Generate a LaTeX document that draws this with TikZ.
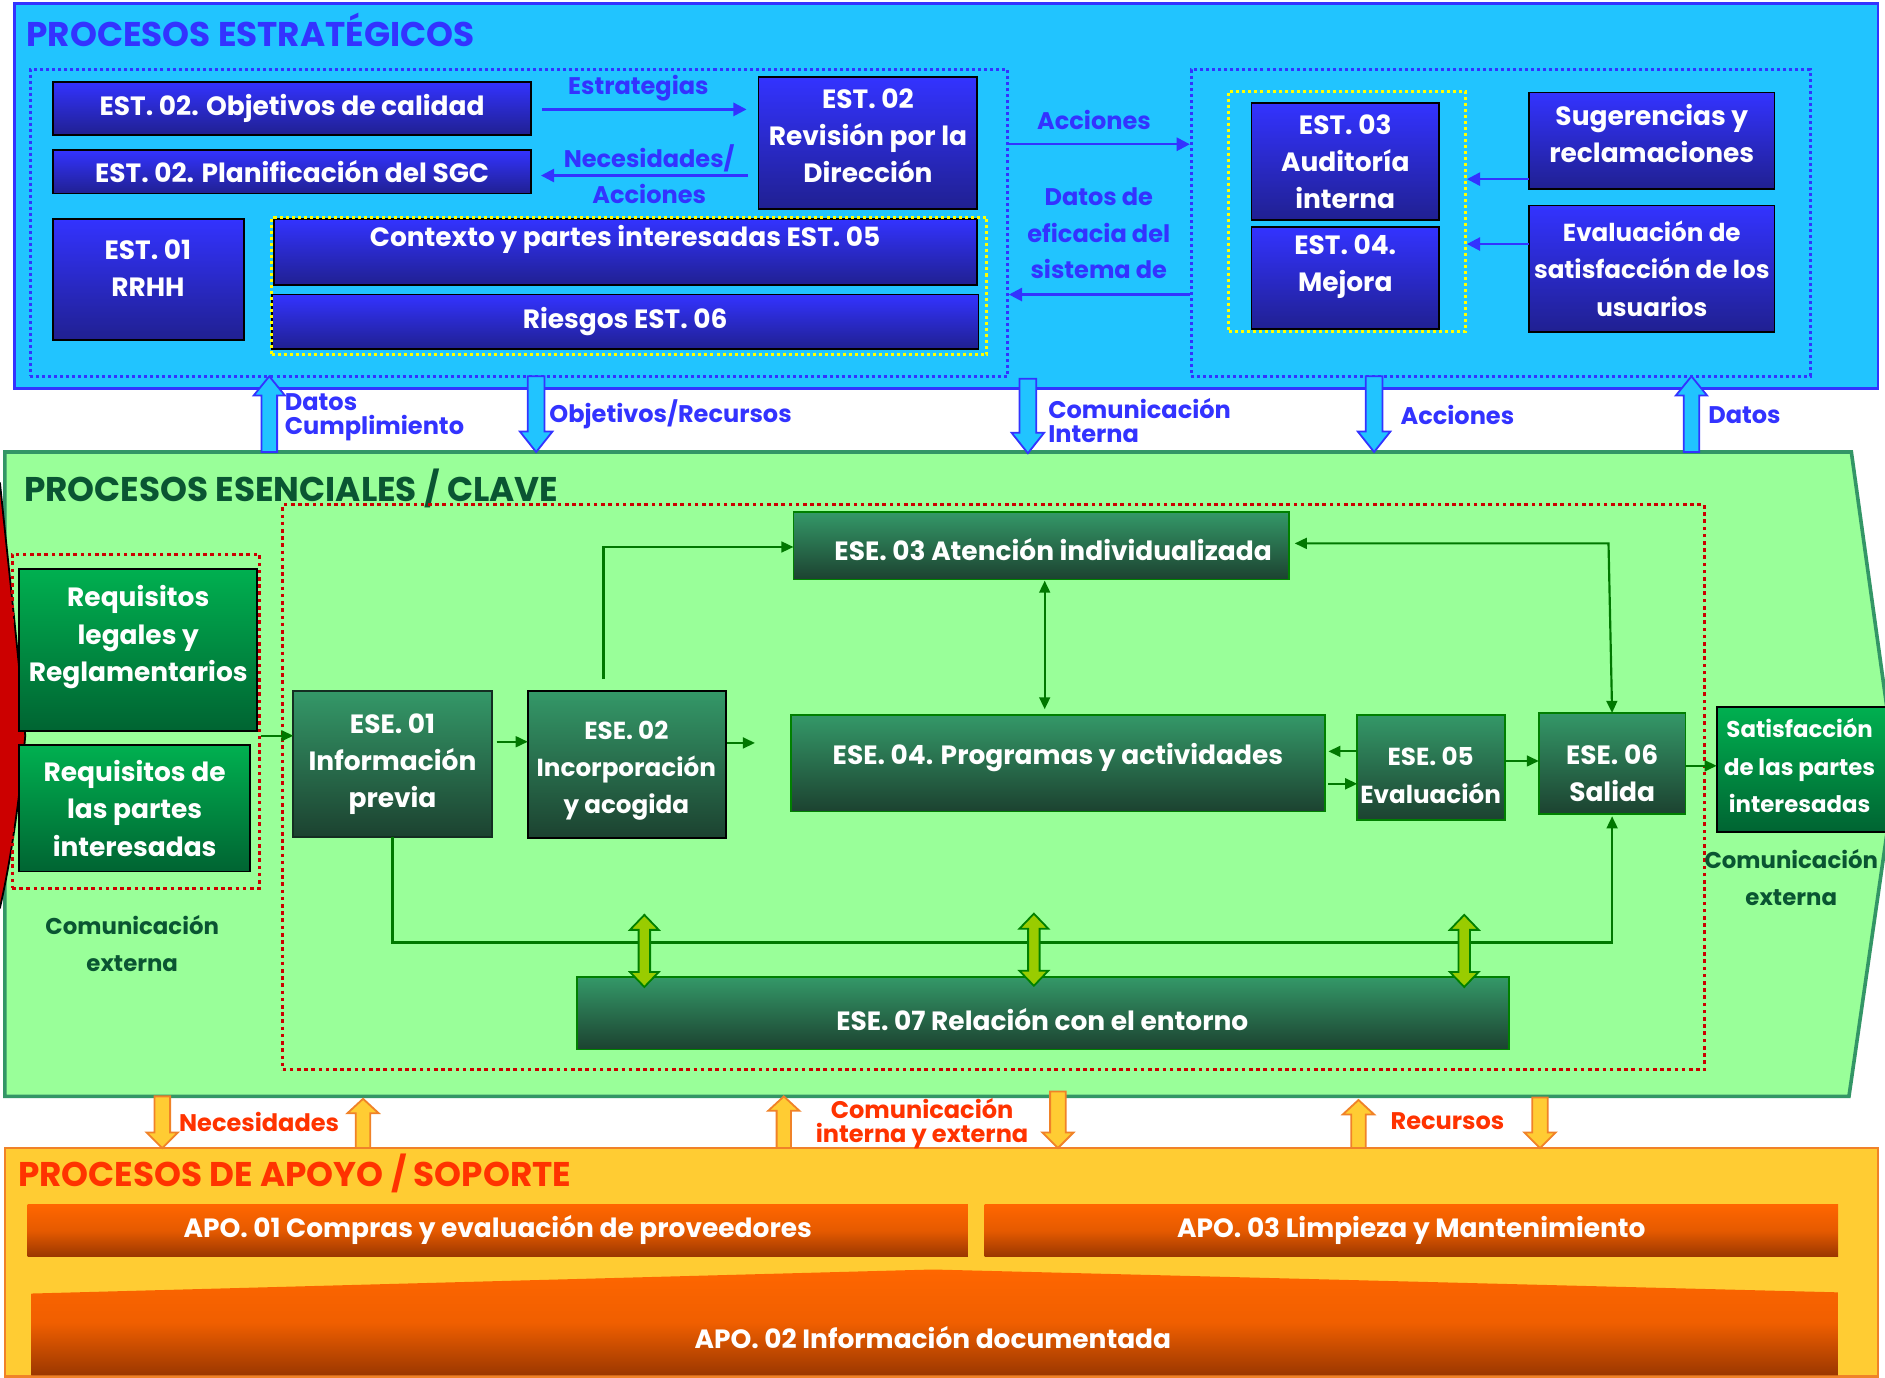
\documentclass[tikz,border=0pt]{standalone}
\usepackage{fontspec}
\setmainfont{Poppins}
\usetikzlibrary{arrows.meta,shadings}
\definecolor{bluebg}{RGB}{33,196,255}
\definecolor{bluedk}{RGB}{51,51,255}
\definecolor{boxtop}{RGB}{51,51,255}
\definecolor{boxbot}{RGB}{32,32,145}
\definecolor{greenbg}{RGB}{153,255,153}
\definecolor{greenbd}{RGB}{51,150,102}
\definecolor{greentxt}{RGB}{10,85,50}
\definecolor{reqtop}{RGB}{0,176,80}
\definecolor{reqbot}{RGB}{0,100,50}
\definecolor{esetop}{RGB}{52,152,104}
\definecolor{esebot}{RGB}{28,66,48}
\definecolor{eseline}{RGB}{0,128,0}
\definecolor{conn}{RGB}{0,120,0}
\definecolor{lime}{RGB}{153,204,0}
\definecolor{reddot}{RGB}{204,0,0}
\definecolor{redfill}{RGB}{204,0,0}
\definecolor{orbg}{RGB}{255,204,51}
\definecolor{orbd}{RGB}{240,130,40}
\definecolor{ortxt}{RGB}{255,51,0}
\definecolor{apotop}{RGB}{255,102,0}
\definecolor{apobot}{RGB}{155,55,0}
\definecolor{yel}{RGB}{255,255,0}
\newcommand\mybody{\bfseries\fontsize{22}{31}\selectfont}
\newcommand\mysmall{\bfseries\fontsize{20.5}{31}\selectfont}
\newcommand\mylab{\bfseries\fontsize{20}{30}\selectfont}
\newcommand\mygreen{\bfseries\fontsize{19}{31}\selectfont}
\newcommand\mytight{\bfseries\fontsize{20}{20}\selectfont}
\newcommand\mytitle{\bfseries\fontsize{28.5}{32}\selectfont}
\newcommand\mkbox[6]{\node[#1,minimum width={(#5)-(#3)},minimum height={(#6)-(#4)}] (#2) at ({((#3)+(#5))/2},{((#4)+(#6))/2})}
% vertical block arrow: style, x, y tail, y tip, shaft half, wing half, head length
\newcommand\bkarrow[7]{%
  \pgfmathsetmacro\bkd{ifthenelse((#4)>(#3),1,-1)}%
  \pgfmathsetmacro\bkh{(#4)-(\bkd)*(#7)}%
  \draw[#1] ({#2-#5},#3) -- ({#2-#5},\bkh) -- ({#2-#6},\bkh) -- (#2,#4) -- ({#2+#6},\bkh) -- ({#2+#5},\bkh) -- ({#2+#5},#3) -- cycle;}
% vertical double block arrow: style, x, y top, y bottom, shaft half, wing half, head length
\newcommand\bkdarrow[7]{%
  \draw[#1] (#2,#3) -- ({#2+#6},{#3+#7}) -- ({#2+#5},{#3+#7}) -- ({#2+#5},{#4-#7}) -- ({#2+#6},{#4-#7}) -- (#2,#4) -- ({#2-#6},{#4-#7}) -- ({#2-#5},{#4-#7}) -- ({#2-#5},{#3+#7}) -- ({#2-#6},{#3+#7}) -- cycle;}
\tikzset{
 tx/.style={inner sep=0pt, outer sep=0pt, align=center, font=\mybody},
 estbox/.style={tx, draw=black, line width=1.5, top color=boxtop, bottom color=boxbot, text=white},
 reqbox/.style={tx, draw=black, line width=1.5, top color=reqtop, bottom color=reqbot, text=white},
 esebox/.style={tx, draw=#1, line width=1.5, top color=esetop, bottom color=esebot, text=white},
 esebox/.default=eseline,
 apobox/.style={tx, top color=apotop, bottom color=apobot, middle color=apotop!75!apobot, text=white},
 wt/.style={tx, text=white},
 bdotbox/.style={draw=bluedk, line width=2.5, dash pattern=on 2.5pt off 2.5pt},
 ydotbox/.style={draw=yel, line width=2.5, dash pattern=on 2.5pt off 2.5pt},
 rdotbox/.style={draw=reddot, line width=2.5, dash pattern=on 3pt off 3pt},
 blab/.style={tx, text=bluedk, font=\mylab},
 glab/.style={tx, text=greentxt, font=\mygreen},
 olab/.style={tx, text=ortxt, font=\mylab},
 ttl/.style={tx, font=\mytitle, anchor=west},
 bconn/.style={draw=bluedk, line width=2, -{Triangle[length=11pt,width=11pt]}},
 gconn/.style={draw=conn, line width=1.8, -{Triangle[length=10pt,width=9pt]}},
 gdconn/.style={draw=conn, line width=1.8, {Triangle[length=10pt,width=9pt]}-{Triangle[length=10pt,width=9pt]}},
 bbk/.style={fill=bluebg, draw=bluedk, line width=1.5},
 obk/.style={fill=orbg, draw=orbd, line width=1.5},
 lbk/.style={fill=lime, draw=eseline, line width=1.5},
}
\begin{document}
\begin{tikzpicture}[x=1pt,y=-1pt]
\useasboundingbox (0,0) rectangle (1568,1146);
\fill[white] (0,0) rectangle (1568,1146);
% ---------- regions
\filldraw[fill=bluebg, draw=bluedk, line width=2] (12,3) rectangle (1562,323);
\filldraw[fill=greenbg, draw=greenbd, line width=3] (4,376) -- (1540,376) -- (1577,642) -- (1538,912) -- (4,912) -- cycle;
\filldraw[fill=orbg, draw=orbd, line width=2] (4,955) rectangle (1562,1145);
\filldraw[fill=redfill, draw=black, line width=1.5] (-3,402) -- (0,402) .. controls (8,480) and (16,550) .. (21,612) .. controls (16,670) and (8,720) .. (0,755) -- (-3,755) -- cycle;
% ---------- titles
\node[ttl, text=bluedk] (t-est) at (22,25) {PROCESOS ESTRATÉGICOS};
\node[ttl, text=greentxt] (t-ese) at (20,406) {PROCESOS ESENCIALES / CLAVE};
\node[ttl, text=ortxt] (t-apo) at (15,976) {PROCESOS DE APOYO / SOPORTE};
% ---------- strategic
\mkbox{bdotbox}{ldot}{25}{58}{838}{313}{};
\mkbox{bdotbox}{rdotb}{991}{58}{1506}{313}{};
\mkbox{estbox}{obj}{44}{68}{442}{112}{EST. 02. Objetivos de calidad};
\mkbox{estbox}{plan}{44}{125}{442}{161}{EST. 02. Planificación del SGC};
\mkbox{estbox}{rev}{631}{64}{813}{174}{};
\node[wt] (rev-t) at (722,113) {EST. 02\\Revisión por la\\Dirección};
\mkbox{estbox}{rrhh}{44}{182}{203}{283}{};
\node[wt] (rrhh-t) at (123,223) {EST. 01\\RRHH};
\mkbox{estbox}{ctx}{228}{182}{813}{237}{};
\node[wt] (ctx-t) at (520,199) {Contexto y partes interesadas EST. 05};
\mkbox{estbox}{rsg}{226}{245}{814}{290}{Riesgos EST. 06};
\mkbox{ydotbox}{ydl}{226}{181}{821}{295}{};
\mkbox{estbox}{aud}{1041}{86}{1197}{183}{EST. 03\\Auditoría\\interna};
\mkbox{estbox}{mej}{1041}{189}{1197}{274}{};
\node[wt] (mej-t) at (1119,222) {EST. 04.\\Mejora};
\mkbox{ydotbox}{ydr}{1022}{76}{1219}{276}{};
\mkbox{estbox}{sug}{1272}{77}{1476}{157}{};
\node[wt] (sug-t) at (1374,111) {Sugerencias y\\reclamaciones};
\mkbox{estbox, font=\mysmall}{evl}{1272}{171}{1476}{276}{Evaluación de\\satisfacción de los\\usuarios};
% strategic connectors
\draw[bconn, shorten <=9pt, shorten >=10pt] (obj.east |- 0,91) -- (rev.west |- 0,91);
\draw[bconn, shorten <=9pt, shorten >=8pt] (rev.west |- 0,146) -- (plan.east |- 0,146);
\draw[bconn] (ldot.east |- 0,120) -- (rdotb.west |- 0,120);
\draw[bconn] (rdotb.west |- 0,245) -- (ldot.east |- 0,245);
\draw[bconn] (sug.west |- 0,149) -- (ydr.east |- 0,149);
\draw[bconn] (evl.west |- 0,203) -- (ydr.east |- 0,203);
\node[blab] (l-estr) at (531,73) {Estrategias};
\node[blab] (l-nec) at (540,145) {Necesidades/\\Acciones};
\node[blab] (l-acc1) at (910,100) {Acciones};
\node[blab] (l-datos) at (914,194) {Datos de\\eficacia del\\sistema de};
% ---------- blue block arrows
\bkarrow{bbk}{224}{376}{313}{6.5}{13}{16}
\bkarrow{bbk}{446}{313}{376}{7}{13.5}{17}
\bkarrow{bbk}{855}{315}{377}{7}{13.5}{17}
\bkarrow{bbk}{1143}{313}{376}{7}{13.5}{17}
\bkarrow{bbk}{1407}{376}{313}{6.5}{13}{16}
\node[blab, font=\mytight, anchor=west, align=left] (l-dc) at (237,347) {Datos\\Cumplimiento};
\node[blab, anchor=west] (l-or) at (457,345) {Objetivos/Recursos};
\node[blab, font=\mytight, anchor=west, align=left] (l-ci) at (872,350) {Comunicación\\Interna};
\node[blab, anchor=west] (l-acc2) at (1165,345) {Acciones};
\node[blab, anchor=west] (l-dat2) at (1421,345) {Datos};
% ---------- essential
\mkbox{rdotbox}{rbig}{235}{420}{1418}{890}{};
\mkbox{rdotbox}{rsmall}{10}{461}{216}{739}{};
\mkbox{reqbox}{reql}{16}{473}{214}{608}{};
\node[wt] (reql-t) at (115,530) {Requisitos\\legales y\\Reglamentarios};
\mkbox{reqbox}{reqp}{16}{620}{208}{725}{Requisitos de\\las partes\\interesadas};
\mkbox{esebox=esebot!70!black}{ese1}{244}{575}{409}{696}{ESE. 01\\Información\\previa};
\mkbox{esebox=black}{ese2}{439}{575}{604}{697}{};
\node[wt, font=\mysmall] (ese2-t) at (521,641) {ESE. 02\\Incorporación\\y acogida};
\mkbox{esebox}{ese3}{660}{426}{1072}{482}{};
\node[wt] (ese3-t) at (876,457) {ESE. 03 Atención individualizada};
\mkbox{esebox}{ese4}{658}{595}{1102}{675}{};
\node[wt] (ese4-t) at (880,630) {ESE. 04. Programas y actividades};
\mkbox{esebox}{ese5}{1129}{595}{1252}{682}{};
\node[wt, font=\mysmall] (ese5-t) at (1190,645) {ESE. 05\\Evaluación};
\mkbox{esebox}{ese6}{1280}{593}{1402}{677}{};
\node[wt] (ese6-t) at (1341,643) {ESE. 06\\Salida};
\mkbox{reqbox}{sat}{1428}{588}{1574}{692}{};
\node[wt, font=\mygreen] (sat-t) at (1497,637) {Satisfacción\\de las partes\\interesadas};
\mkbox{esebox}{ese7}{480}{813}{1255}{873}{};
\node[wt] (ese7-t) at (867,848) {ESE. 07 Relación con el entorno};
\node[glab] (l-ce1) at (110,785) {Comunicación\\externa};
\node[glab] (l-ce2) at (1490,730) {Comunicación\\externa};
% essential connectors
\coordinate (e2up) at (502,565);
\coordinate (e2out) at (628,618);
\draw[gconn] (rsmall.east |- 0,612) -- (ese1.west |- 0,612);
\draw[gconn, shorten <=4pt] (ese1.east |- 0,617) -- (ese2.west |- 0,617);
\draw[gconn, shorten <=1pt] (ese2.east |- 0,618) -- (e2out);
\draw[gconn] (e2up) -- (502,455) -- (ese3.west |- 0,455);
\draw[gdconn, shorten <=1pt, shorten >=5pt] (ese3.south -| 869,0) -- (ese4.north -| 869,0);
\draw[gdconn, shorten <=5pt] (ese3.east |- 0,452) -- (1338,452) -- (ese6.north);
\draw[gconn, shorten >=3pt] (ese5.west |- 0,625) -- (ese4.east |- 0,625);
\draw[gconn, shorten <=3pt] (ese4.east |- 0,652) -- (ese5.west |- 0,652);
\draw[gconn] (ese5.east |- 0,633) -- (ese6.west |- 0,633);
\draw[gconn] (ese6.east |- 0,637) -- (sat.west |- 0,637);
\draw[gconn, shorten >=2pt] (ese1.south) -- (ese1.south |- 0,784) -- (ese6.south |- 0,784) -- (ese6.south);
\bkdarrow{lbk}{536}{761}{821}{4.8}{12}{12.5}
\bkdarrow{lbk}{860}{760}{820}{4.8}{12}{12.5}
\bkdarrow{lbk}{1218}{761}{821}{4.8}{12}{12.5}
% ---------- support
\mkbox{apobox}{apo1}{23}{1002}{805}{1045}{APO. 01 Compras y evaluación de proveedores};
\mkbox{apobox}{apo3}{819}{1002}{1529}{1045}{APO. 03 Limpieza y Mantenimiento};
\shade[top color=apotop, bottom color=apobot, middle color=apotop!85!apobot] (26,1076) -- (776,1056) -- (1529,1075) -- (1529,1144) -- (26,1144) -- cycle;
\node[wt] (apo2) at (776,1113) {APO. 02 Información documentada};
\bkarrow{obk}{135}{912}{955}{6.5}{13}{13}
\bkarrow{obk}{302}{955}{914}{6}{13}{12}
\bkarrow{obk}{652}{955}{912}{6}{13}{12}
\bkarrow{obk}{880}{908}{955}{6.5}{13}{13}
\bkarrow{obk}{1130}{955}{915}{6}{13}{12}
\bkarrow{obk}{1281}{913}{955}{6.5}{13}{13}
\node[olab, anchor=west] (l-necs) at (149,933) {Necesidades};
\node[olab, font=\mytight] (l-cie) at (767,935) {Comunicación\\interna y externa};
\node[olab] (l-rec) at (1204,933) {Recursos};
\end{tikzpicture}
\end{document}
